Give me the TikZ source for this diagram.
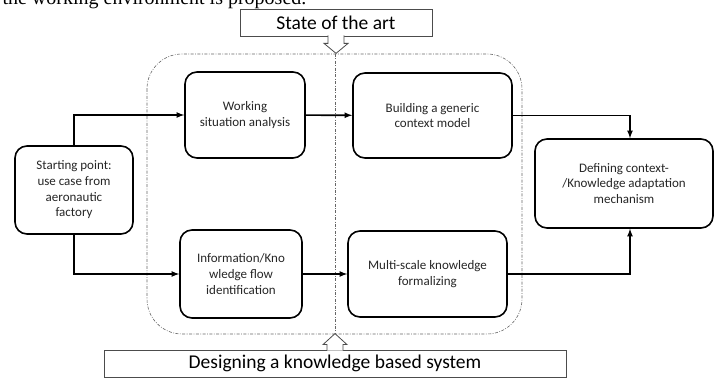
\documentclass[tikz,border=0pt]{standalone}
\usepackage{fontspec}
\setmainfont{Carlito}
\newfontfamily\bodyfont{Liberation Serif}
\usepackage{tikz}
\usetikzlibrary{calc}

\begin{document}
\begin{tikzpicture}[x=1pt,y=-1pt,
		stepbox/.style={draw,line width=1.6pt,rounded corners=12pt,align=center,inner sep=2pt,font=\fontsize{13}{15.7}\selectfont,text=black!85},
		labelbox/.style={draw=black!70,line width=0.8pt,inner sep=0pt,font=\fontsize{19.5}{23}\selectfont},
		flow/.style={line width=1.6pt,-latex},
		region/.style={draw=black!60,line width=0.6pt,dash pattern=on 3pt off 1.5pt on 0.8pt off 1.5pt}]
		\useasboundingbox[fill=white] (0,0) rectangle (715,379);

		\node[anchor=base west,font=\bodyfont\fontsize{20}{24}\selectfont] (intro) at (-1,5) {the working environment is proposed.};

		\draw[region,rounded corners=35pt] (147,54) rectangle (522,334);
		\draw[region] (335,54) -- (335,334);

		\node[labelbox,minimum width=192pt,minimum height=27pt] (state) at (336,22.5) {State of the art};
		\node[labelbox,minimum width=462pt,minimum height=27pt] (design) at (335,363.5) {Designing a knowledge based system};

		\node[stepbox,minimum width=118pt,minimum height=88pt] (start) at (74,190) {Starting point:\\use case from\\aeronautic\\factory};
		\node[stepbox,minimum width=120pt,minimum height=86pt] (work) at (245,115) {Working\\situation analysis};
		\node[stepbox,minimum width=159pt,minimum height=85pt] (build) at (432.5,115.5) {Building a generic\\context model};
		\node[stepbox,minimum width=122pt,minimum height=88pt] (info) at (241,274) {Information/Kno\\wledge flow\\identification};
		\node[stepbox,minimum width=159pt,minimum height=86pt] (multi) at (427.5,274) {Multi-scale knowledge\\formalizing};
		\node[stepbox,minimum width=178pt,minimum height=89pt] (define) at (624,183.5) {Defining context-\\/Knowledge adaptation\\mechanism};

		\draw[flow] (start.north) |- (work.west);
		\draw[flow] (start.south) |- (info.west);
		\draw[flow] (work) -- (build);
		\draw[flow] (info) -- (multi);
		\draw[flow] (build.east) -| ([xshift=6pt]define.north);
		\draw[flow] (multi.east) -| ([xshift=6pt]define.south);

		\draw[draw=black!70,line width=0.8pt,fill=white] ($(state.south)+(-8,-1)$) -- ++(0,8) -- ++(-4,0) -- ++(12,10) -- ++(12,-10) -- ++(-4,0) -- ++(0,-8);
		\draw[draw=black!70,line width=0.8pt,fill=white] ($(design.north)+(-8,1)$) -- ++(0,-6) -- ++(-4,0) -- ++(12,-11) -- ++(12,11) -- ++(-4,0) -- ++(0,6);
	\end{tikzpicture}
\end{document}
